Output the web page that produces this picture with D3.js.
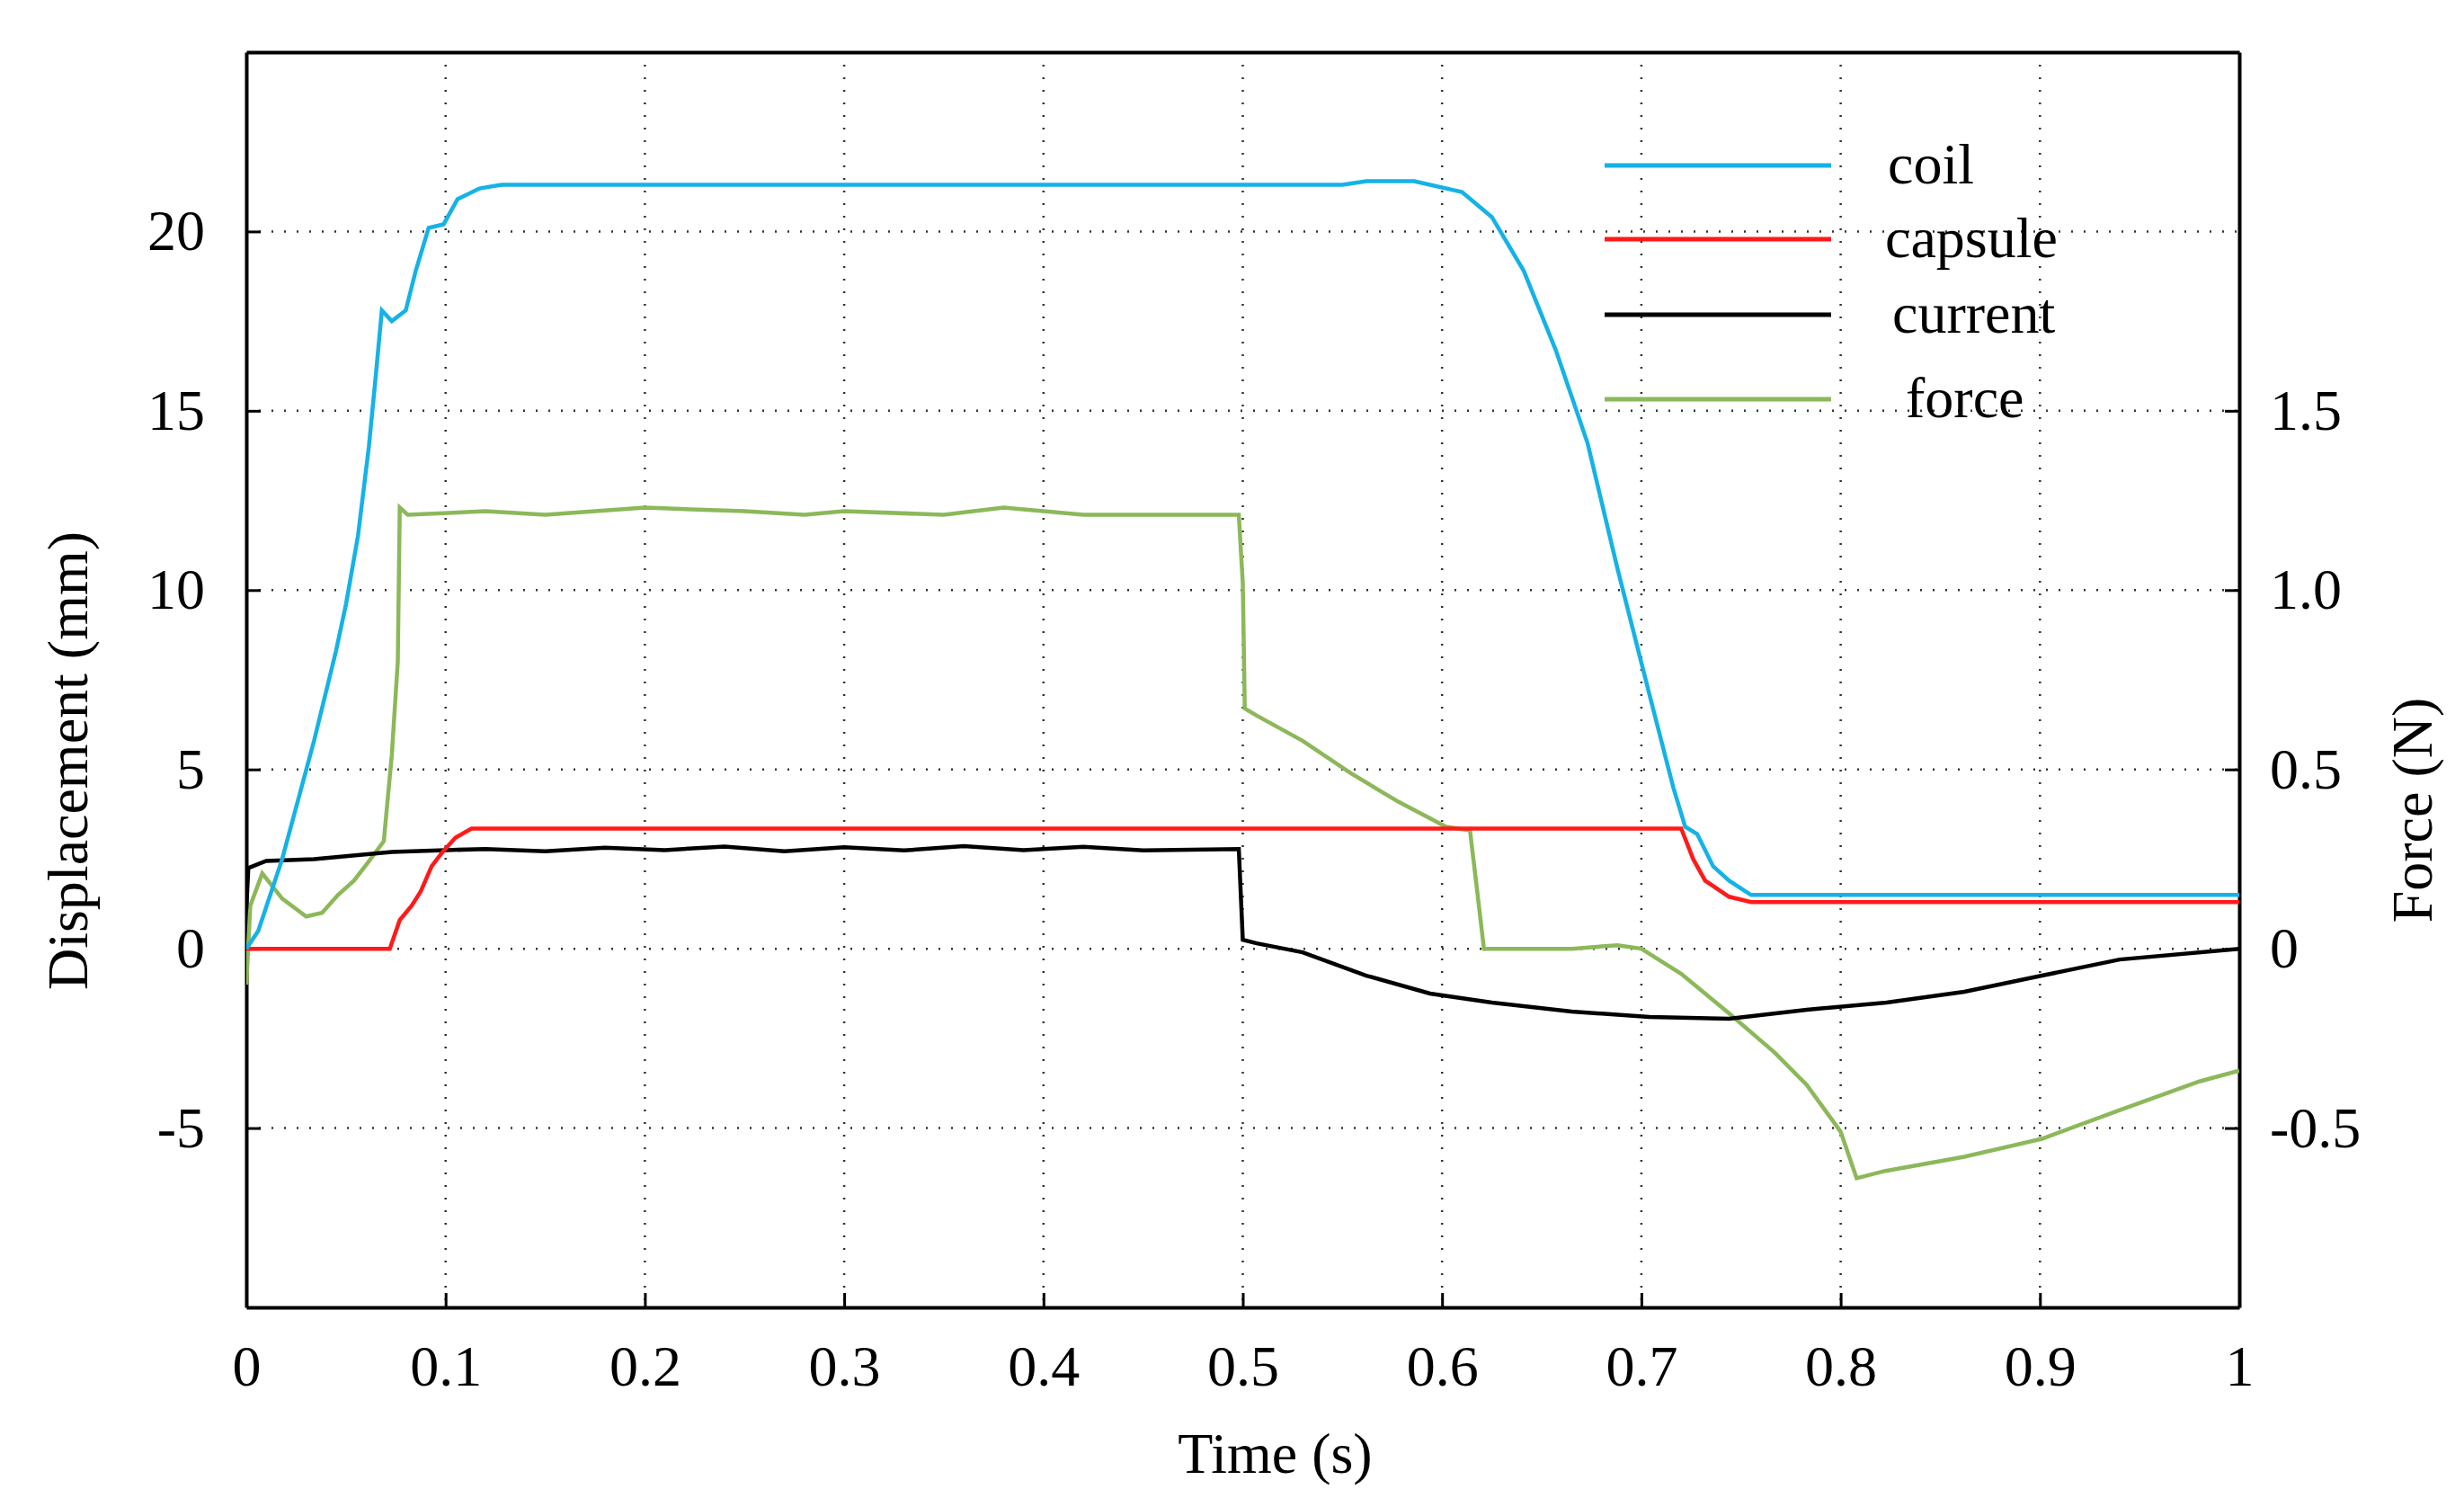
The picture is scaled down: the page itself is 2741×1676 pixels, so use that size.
<!DOCTYPE html>
<html><head><meta charset="utf-8">
<script src="https://cdn.jsdelivr.net/npm/d3@7"></script>
<style>body{margin:0;background:#fff}</style>
</head><body>
<svg id="c" width="2741" height="1676"></svg>
<script>
const xTicks=[0,0.1,0.2,0.3,0.4,0.5,0.6,0.7,0.8,0.9,1];
const xTickLabels=["0","0.1","0.2","0.3","0.4","0.5","0.6","0.7","0.8","0.9","1"];
const yTicks=[-5,0,5,10,15,20];
const yTickLabels=["-5","0","5","10","15","20"];
const fTicks=[-0.5,0,0.5,1.0,1.5];
const fTickLabels=["-0.5","0","0.5","1.0","1.5"];
const seriesNames=["coil","capsule","current","force"];
const seriesColors=["#15b2e6","#ff1a1a","#000000","#8cb85a"];
const coil=[[0,0],[0.006,0.5],[0.018,2.5],[0.034,5.8],[0.045,8.3],[0.05,9.6],[0.056,11.5],[0.0615,14.0],[0.065,16.0],[0.068,17.8],[0.073,17.5],[0.08,17.8],[0.085,18.9],[0.0915,20.1],[0.099,20.2],[0.106,20.9],[0.117,21.2],[0.128,21.3],[0.55,21.3],[0.562,21.4],[0.586,21.4],[0.61,21.1],[0.625,20.4],[0.641,18.9],[0.657,16.7],[0.673,14.1],[0.688,10.6],[0.704,7.1],[0.716,4.5],[0.722,3.4],[0.728,3.2],[0.736,2.3],[0.744,1.9],[0.755,1.5],[1,1.5]];
const capsule=[[0,0],[0.072,0],[0.077,0.8],[0.083,1.2],[0.0875,1.6],[0.093,2.3],[0.0985,2.7],[0.105,3.1],[0.113,3.35],[0.72,3.35],[0.726,2.5],[0.732,1.9],[0.744,1.45],[0.755,1.3],[1,1.3]];
const current=[[0,1.1],[0.001,2.25],[0.01,2.45],[0.034,2.5],[0.073,2.7],[0.1,2.75],[0.12,2.78],[0.15,2.72],[0.18,2.82],[0.21,2.75],[0.24,2.85],[0.27,2.72],[0.3,2.83],[0.33,2.74],[0.36,2.86],[0.39,2.75],[0.42,2.84],[0.45,2.74],[0.498,2.78],[0.5,0.25],[0.507,0.15],[0.53,-0.1],[0.562,-0.75],[0.594,-1.25],[0.625,-1.5],[0.665,-1.75],[0.704,-1.9],[0.744,-1.95],[0.783,-1.7],[0.823,-1.5],[0.862,-1.2],[0.901,-0.75],[0.94,-0.3],[1,0]];
const force=[[0,-0.1],[0.002,0.12],[0.008,0.21],[0.018,0.14],[0.03,0.09],[0.038,0.1],[0.046,0.15],[0.054,0.19],[0.061,0.24],[0.069,0.3],[0.073,0.54],[0.076,0.8],[0.077,1.23],[0.081,1.21],[0.12,1.22],[0.15,1.21],[0.2,1.23],[0.25,1.22],[0.28,1.21],[0.3,1.22],[0.35,1.21],[0.38,1.23],[0.42,1.21],[0.46,1.21],[0.498,1.21],[0.5,1.02],[0.501,0.67],[0.507,0.65],[0.53,0.58],[0.554,0.49],[0.578,0.41],[0.602,0.34],[0.614,0.33],[0.617,0.19],[0.621,0],[0.665,0],[0.688,0.01],[0.7,0],[0.72,-0.07],[0.744,-0.18],[0.767,-0.29],[0.783,-0.38],[0.8,-0.51],[0.808,-0.64],[0.822,-0.62],[0.862,-0.58],[0.901,-0.53],[0.94,-0.45],[0.98,-0.37],[1,-0.34]];

const svg=d3.select("#c");
const L=274,R=2491,T=58,B=1454;
const x=d3.scaleLinear().domain([0,1]).range([L,R]);
const y=d3.scaleLinear().domain([-10,25]).range([B,T]);
const yf=d3.scaleLinear().domain([-1,2.5]).range([B,T]);
const font="'Liberation Serif', serif";
const fs=64;

const g=svg.append("g");
xTicks.slice(1,-1).forEach(t=>g.append("line").attr("x1",x(t)).attr("x2",x(t)).attr("y1",T).attr("y2",B).attr("stroke","#333").attr("stroke-width",2.5).attr("stroke-dasharray","2,12"));
yTicks.forEach(t=>g.append("line").attr("x1",L).attr("x2",R).attr("y1",y(t)).attr("y2",y(t)).attr("stroke","#333").attr("stroke-width",2.5).attr("stroke-dasharray","2,12"));

const ax=svg.append("g").attr("transform",`translate(0,${B})`).call(d3.axisBottom(x).tickValues(xTicks).tickFormat((d,i)=>xTickLabels[i]).tickSizeInner(-16).tickSizeOuter(0).tickPadding(42));
const ayl=svg.append("g").attr("transform",`translate(${L},0)`).call(d3.axisLeft(y).tickValues(yTicks).tickFormat((d,i)=>yTickLabels[i]).tickSizeInner(-16).tickSizeOuter(0).tickPadding(46));
const ayr=svg.append("g").attr("transform",`translate(${R},0)`).call(d3.axisRight(yf).tickValues(fTicks).tickFormat((d,i)=>fTickLabels[i]).tickSizeInner(-16).tickSizeOuter(0).tickPadding(34));
svg.append("g").attr("transform",`translate(0,${T})`).call(d3.axisTop(x).tickValues([]).tickSizeOuter(0));
[ax,ayl,ayr].forEach(a=>{a.selectAll("text").attr("font-family",font).attr("font-size",fs).attr("fill","#000");a.selectAll("line").attr("stroke","#000").attr("stroke-width",3);});
svg.selectAll(".domain").attr("stroke","#000").attr("stroke-width",4);

const line=d3.line().x(d=>x(d[0])).y(d=>y(d[1]));
const linef=d3.line().x(d=>x(d[0])).y(d=>yf(d[1]));
svg.append("clipPath").attr("id","cp").append("rect").attr("x",L).attr("y",T).attr("width",R-L).attr("height",B-T);
const pl=svg.append("g").attr("clip-path","url(#cp)");
pl.append("path").attr("d",linef(force)).attr("fill","none").attr("stroke",seriesColors[3]).attr("stroke-width",4.5);
pl.append("path").attr("d",line(current)).attr("fill","none").attr("stroke",seriesColors[2]).attr("stroke-width",4.5);
pl.append("path").attr("d",line(capsule)).attr("fill","none").attr("stroke",seriesColors[1]).attr("stroke-width",4.5);
pl.append("path").attr("d",line(coil)).attr("fill","none").attr("stroke",seriesColors[0]).attr("stroke-width",4.5);

const ly=[184,266,350,444], lx=[2100,2097,2105,2120];
seriesNames.forEach((n,i)=>{
  svg.append("line").attr("x1",1785).attr("x2",2037).attr("y1",ly[i]).attr("y2",ly[i]).attr("stroke",seriesColors[i]).attr("stroke-width",5);
  svg.append("text").attr("x",lx[i]).attr("y",ly[i]+20).attr("font-family",font).attr("font-size",fs).text(n);
});

svg.append("text").attr("x",(L+R)/2+36).attr("y",1638).attr("text-anchor","middle").attr("font-family",font).attr("font-size",fs).text("Time (s)");
svg.append("text").attr("transform",`translate(97,${(T+B)/2+90}) rotate(-90)`).attr("text-anchor","middle").attr("font-family",font).attr("font-size",fs).text("Displacement (mm)");
svg.append("text").attr("transform",`translate(2705,${(T+B)/2+145}) rotate(-90)`).attr("text-anchor","middle").attr("font-family",font).attr("font-size",fs).text("Force (N)");
</script>
</body></html>
